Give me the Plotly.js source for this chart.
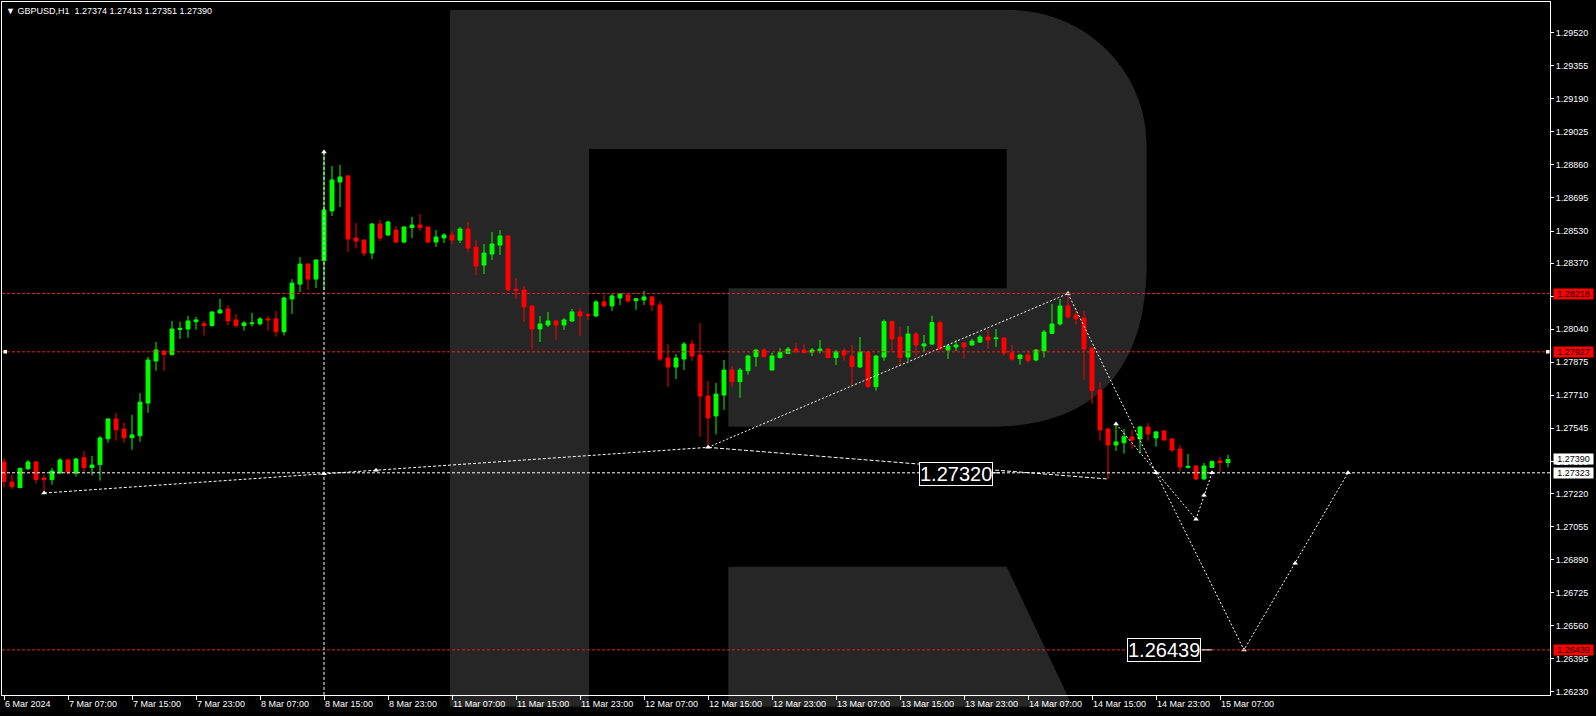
<!DOCTYPE html>
<html><head><meta charset="utf-8">
<script src="https://cdn.plot.ly/plotly-3.0.1.min.js"></script>
<style>html,body{margin:0;padding:0;background:#000;overflow:hidden}#chart{width:1596px;height:716px}</style>
</head><body><div id="chart"></div>
<script>
const symbolName = "GBPUSD,H1";
const opens = [
1.27377,1.27277,1.27249,1.27344,1.27377,1.27297,1.27289,1.27322,1.27387,1.27322,
1.27399,1.27349,1.27364,1.27493,1.27592,1.27542,1.27498,1.27508,1.27671,1.27881,
1.27931,1.27913,1.28038,1.28041,1.28077,1.28067,1.28058,1.28121,1.28141,1.28086,
1.28058,1.28067,1.28067,1.28091,1.28091,1.28027,1.28191,1.28265,1.28365,1.28290,
1.28382,1.28630,1.28775,1.28805,1.28495,1.28485,1.28420,1.28565,1.28510,1.28535,
1.28475,1.28547,1.28560,1.28550,1.28475,1.28495,1.28510,1.28485,1.28540,1.28450,
1.28360,1.28415,1.28460,1.28505,1.28239,1.28236,1.28156,1.28041,1.28061,1.28081,
1.28061,1.28081,1.28126,1.28112,1.28106,1.28176,1.28156,1.28196,1.28211,1.28182,
1.28186,1.28201,1.28161,1.27896,1.27851,1.27891,1.27966,1.27911,1.27706,1.27607,
1.27711,1.27836,1.27778,1.27833,1.27903,1.27936,1.27836,1.27898,1.27919,1.27941,
1.27936,1.27926,1.27933,1.27941,1.27898,1.27933,1.27906,1.27851,1.27926,1.27753,
1.27901,1.28078,1.28001,1.27901,1.28016,1.27956,1.27966,1.28073,1.27936,1.27951,
1.27971,1.27961,1.27976,1.28001,1.27993,1.27996,1.27921,1.27893,1.27911,1.27886,
1.27931,1.28019,1.28066,1.28156,1.28111,1.28096,1.27946,1.27736,1.27542,1.27462,
1.27473,1.27502,1.27492,1.27552,1.27497,1.27532,1.27492,1.27442,1.27350,1.27357,
1.27292,1.27350,1.27382,1.27374];
const highs = [
1.27395,1.27312,1.27349,1.27387,1.27382,1.27312,1.27347,1.27397,1.27395,1.27399,
1.27432,1.27407,1.27507,1.27595,1.27622,1.27575,1.27612,1.27721,1.27901,1.27976,
1.27936,1.28081,1.28077,1.28106,1.28101,1.28081,1.28129,1.28191,1.28161,1.28116,
1.28081,1.28121,1.28101,1.28106,1.28131,1.28201,1.28290,1.28400,1.28369,1.28390,
1.28920,1.28855,1.28860,1.28810,1.28570,1.28488,1.28570,1.28585,1.28580,1.28555,
1.28555,1.28600,1.28615,1.28553,1.28535,1.28520,1.28530,1.28550,1.28575,1.28485,
1.28465,1.28525,1.28535,1.28508,1.28296,1.28256,1.28159,1.28106,1.28126,1.28084,
1.28096,1.28141,1.28146,1.28121,1.28186,1.28211,1.28216,1.28221,1.28214,1.28196,
1.28231,1.28206,1.28181,1.27966,1.27916,1.27976,1.27986,1.28071,1.27781,1.27771,
1.27886,1.27856,1.27846,1.27911,1.27939,1.27946,1.27923,1.27946,1.27951,1.27971,
1.27966,1.27946,1.27986,1.27946,1.27936,1.27946,1.27961,1.28001,1.27929,1.27911,
1.28088,1.28083,1.28051,1.28056,1.28026,1.28011,1.28107,1.28083,1.27961,1.27986,
1.27976,1.27991,1.28011,1.28036,1.28041,1.27999,1.27961,1.27914,1.27936,1.27941,
1.28036,1.28166,1.28191,1.28218,1.28141,1.28131,1.27949,1.27776,1.27545,1.27567,
1.27542,1.27537,1.27557,1.27572,1.27532,1.27537,1.27497,1.27462,1.27417,1.27360,
1.27372,1.27384,1.27402,1.27413];
const lows = [
1.27250,1.27242,1.27245,1.27337,1.27269,1.27229,1.27264,1.27320,1.27315,1.27304,
1.27324,1.27309,1.27284,1.27473,1.27483,1.27473,1.27438,1.27478,1.27623,1.27833,
1.27833,1.27909,1.27991,1.27998,1.28038,1.28008,1.28053,1.28117,1.28058,1.28048,
1.28033,1.28053,1.28058,1.28033,1.28003,1.28008,1.28116,1.28226,1.28236,1.28246,
1.28236,1.28605,1.28650,1.28425,1.28445,1.28405,1.28390,1.28480,1.28507,1.28470,
1.28470,1.28495,1.28530,1.28470,1.28450,1.28470,1.28465,1.28470,1.28425,1.28310,
1.28315,1.28385,1.28410,1.28232,1.28191,1.28076,1.27941,1.27976,1.28051,1.27986,
1.28036,1.28076,1.28006,1.28086,1.28101,1.28151,1.28131,1.28161,1.28171,1.28136,
1.28161,1.28131,1.27881,1.27751,1.27791,1.27836,1.27881,1.27502,1.27450,1.27515,
1.27637,1.27753,1.27698,1.27813,1.27853,1.27899,1.27833,1.27894,1.27916,1.27919,
1.27919,1.27906,1.27919,1.27894,1.27861,1.27883,1.27758,1.27846,1.27748,1.27733,
1.27883,1.27928,1.27861,1.27883,1.27906,1.27926,1.27961,1.27936,1.27891,1.27931,
1.27891,1.27958,1.27971,1.27941,1.27951,1.27908,1.27883,1.27863,1.27873,1.27879,
1.27898,1.28016,1.28058,1.28092,1.28063,1.27788,1.27668,1.27483,1.27292,1.27432,
1.27419,1.27442,1.27420,1.27483,1.27454,1.27483,1.27427,1.27329,1.27344,1.27287,
1.27289,1.27347,1.27327,1.27351];
const closes = [
1.27279,1.27254,1.27345,1.27377,1.27289,1.27289,1.27332,1.27387,1.27327,1.27392,
1.27349,1.27362,1.27497,1.27592,1.27538,1.27498,1.27512,1.27676,1.27886,1.27936,
1.27913,1.28041,1.28044,1.28081,1.28086,1.28058,1.28126,1.28136,1.28081,1.28058,
1.28071,1.28071,1.28091,1.28087,1.28027,1.28196,1.28270,1.28365,1.28290,1.28385,
1.28635,1.28785,1.28800,1.28490,1.28480,1.28420,1.28565,1.28495,1.28575,1.28475,
1.28550,1.28560,1.28547,1.28475,1.28500,1.28510,1.28485,1.28540,1.28445,1.28355,
1.28420,1.28465,1.28505,1.28236,1.28232,1.28151,1.28041,1.28066,1.28081,1.28061,
1.28086,1.28126,1.28106,1.28109,1.28176,1.28156,1.28206,1.28216,1.28181,1.28192,
1.28201,1.28161,1.27891,1.27851,1.27896,1.27966,1.27906,1.27706,1.27597,1.27716,
1.27836,1.27778,1.27836,1.27906,1.27936,1.27903,1.27906,1.27923,1.27941,1.27931,
1.27923,1.27936,1.27941,1.27898,1.27926,1.27911,1.27853,1.27926,1.27753,1.27906,
1.28078,1.27991,1.27898,1.28016,1.27961,1.27966,1.28073,1.27941,1.27956,1.27961,
1.27951,1.27981,1.28001,1.27986,1.27996,1.27921,1.27891,1.27911,1.27883,1.27936,
1.28026,1.28066,1.28156,1.28102,1.28092,1.27941,1.27733,1.27537,1.27462,1.27477,
1.27503,1.27487,1.27552,1.27517,1.27527,1.27487,1.27437,1.27352,1.27355,1.27292,
1.27357,1.27379,1.27374,1.27390];

const tickIndex = [0,8,16,24,32,40,48,56,64,72,80,88,96,104,112,120,128,136,144,152];
const tickLabels = ["6 Mar 2024","7 Mar 07:00","7 Mar 15:00","7 Mar 23:00","8 Mar 07:00","8 Mar 15:00","8 Mar 23:00","11 Mar 07:00","11 Mar 15:00","11 Mar 23:00","12 Mar 07:00","12 Mar 15:00","12 Mar 23:00","13 Mar 07:00","13 Mar 15:00","13 Mar 23:00","14 Mar 07:00","14 Mar 15:00","14 Mar 23:00","15 Mar 07:00"];
const priceTicks = [1.29520,1.29355,1.29190,1.29025,1.28860,1.28695,1.28530,1.28370,1.28205,1.28040,1.27875,1.27710,1.27545,1.27380,1.27220,1.27055,1.26890,1.26725,1.26560,1.26395,1.26230];

const redLevels = [1.28218, 1.27927, 1.26439];
const whiteLevel = 1.27323;

// analyst drawing: wave lines (bar index, price)
const waveAX = [5, 88],            waveAY = [1.27222, 1.27450];
const waveBX = [88, 133],          waveBY = [1.27450, 1.28218];
const waveCX = [88, 138],          waveCY = [1.27450, 1.27292];
const waveDX = [133, 144, 155, 168], waveDY = [1.28218, 1.27323, 1.26439, 1.27323];
const waveEX = [139, 149, 151],    waveEY = [1.27567, 1.27091, 1.27323];
const pointX = [5, 40, 46.5, 88, 133, 144, 155, 161.4, 168, 139, 149, 150, 151, 40];
const pointY = [1.27222, 1.27318, 1.27336, 1.27450, 1.28218, 1.27323, 1.26439, 1.26871, 1.27323, 1.27567, 1.27091, 1.27211, 1.27323, 1.28925];
const markerBarIndex = 40, markerTopPrice = 1.28925;
const labelTexts = ["1.27320", "1.26439"];
const labelX = [119.05, 145.06];
const labelY = [1.27318, 1.26436];

const barIndex = opens.map((_, i) => i);
const yMin = 1.262138, yMax = 1.296733;
const last = closes.length - 1;

// pixel helpers for paper-space decorations (plot area 2..1550 x 2..695)
const PX = px => ((px - 2) / 1548).toFixed(5);
const PY = py => ((695 - py) / 693).toFixed(5);
const pt = (a, b) => PX(a) + ',' + PY(b);

const logoPath = 'M' + pt(450,10) + ' L' + pt(1010,10) + ' C' + pt(1085.5,10) + ' ' + pt(1146.7,70.5) + ' ' + pt(1146.7,145) +
  ' L' + pt(1146.7,262) + ' C' + pt(1146.7,370) + ' ' + pt(1095,426.7) + ' ' + pt(990,426.7) +
  ' L' + pt(728.3,426.7) + ' L' + pt(728.3,288.3) + ' L' + pt(1006.7,288.3) + ' L' + pt(1006.7,149) +
  ' L' + pt(589,149) + ' L' + pt(589,706.7) + ' L' + pt(450,706.7) + ' Z';
const legPath = 'M' + pt(728.3,566.7) + ' L' + pt(1006.7,566.7) + ' L' + pt(1072.7,706.7) + ' L' + pt(728.3,706.7) + ' Z';

const shapes = [
  {type:'path', path: logoPath, xref:'paper', yref:'paper', fillcolor:'#262626', line:{width:0}, layer:'below'},
  {type:'path', path: legPath, xref:'paper', yref:'paper', fillcolor:'#262626', line:{width:0}, layer:'below'}
];
redLevels.forEach(v => shapes.push({type:'line', xref:'paper', x0:0, x1:1, yref:'y', y0:v, y1:v,
  line:{color:'#e81e1e', width:1, dash:'3px,2px'}}));
shapes.push({type:'line', xref:'paper', x0:0, x1:1, yref:'y', y0:whiteLevel, y1:whiteLevel,
  line:{color:'#ffffff', width:1, dash:'3px,2px'}});
shapes.push({type:'line', xref:'x', x0:markerBarIndex, x1:markerBarIndex, yref:'y', y0:markerTopPrice, y1:yMin,
  line:{color:'#ffffff', width:1, dash:'3px,2px'}});
// end handles of the 1.27927 level
shapes.push({type:'rect', xref:'paper', yref:'paper', x0:PX(3.5), x1:PX(7), y0:PY(353.5), y1:PY(350), fillcolor:'#fff', line:{width:0}});
shapes.push({type:'rect', xref:'paper', yref:'paper', x0:PX(1546), x1:PX(1549.5), y0:PY(353.5), y1:PY(350), fillcolor:'#fff', line:{width:0}});
// connectors of text labels
shapes.push({type:'line', xref:'x', yref:'y', x0:123.6, x1:124.5, y0:whiteLevel, y1:whiteLevel, line:{color:'#fff', width:1}});
shapes.push({type:'line', xref:'x', yref:'y', x0:149.7, x1:151, y0:redLevels[2], y1:redLevels[2], line:{color:'#fff', width:1}});

const candle = {
  type:'candlestick', x: barIndex, open: opens, high: highs, low: lows, close: closes,
  increasing:{line:{color:'#00ff00', width:1}, fillcolor:'#00ff00'},
  decreasing:{line:{color:'#ff0000', width:1}, fillcolor:'#ff0000'},
  whiskerwidth:0, hoverinfo:'skip', showlegend:false
};
const dot = {color:'#ffffff', width:1, dash:'2px,2px'};
const mk = (x, y, d) => ({type:'scatter', mode:'lines', x:x, y:y, line:d||dot, hoverinfo:'skip', showlegend:false});
const traces = [candle,
  mk(waveAX, waveAY, {color:'#fff', width:1, dash:'3px,2px'}),
  mk(waveBX, waveBY), mk(waveCX, waveCY, {color:'#fff', width:1, dash:'4px,2px'}),
  mk(waveDX, waveDY), mk(waveEX, waveEY),
  {type:'scatter', mode:'markers', x:pointX, y:pointY, marker:{symbol:'triangle-up', size:5, color:'#fff'}, hoverinfo:'skip', showlegend:false}
];

const font9 = {family:'Liberation Sans, Arial, sans-serif', size:9, color:'#ffffff'};
const annotations = [];
annotations.push({xref:'paper', yref:'paper', x:0, y:1, xanchor:'left', yanchor:'middle', xshift:3, yshift:-8.7,
  showarrow:false, font:font9, borderpad:0,
  text:'\u25BC ' + symbolName + '\u00a0\u00a0' + [opens[last], highs[last], lows[last], closes[last]].map(v => v.toFixed(5)).join(' ')});
const priceBox = (v, bg) => ({xref:'paper', yref:'y', x:1, y:v, xanchor:'left', yanchor:'middle', xshift:2.7,
  showarrow:false, text:v.toFixed(5), bgcolor:bg, width:39, height:10, borderpad:0, align:'center',
  font:{family:font9.family, size:9, color:'#000'}});
redLevels.forEach(v => annotations.push(priceBox(v, '#ff0000')));
annotations.push(priceBox(closes[last], '#ffffff'));
annotations.push(priceBox(whiteLevel, '#ffffff'));
labelTexts.forEach((t, i) => annotations.push({xref:'x', yref:'y', x:labelX[i], y:labelY[i], xanchor:'center', yanchor:'middle',
  showarrow:false, text:t, bgcolor:'#000', bordercolor:'#fff', borderwidth:1, borderpad:0,
  font:{family:'Liberation Sans, Arial, sans-serif', size:20, color:'#fff'}}));

const layout = {
  width:1596, height:716,
  margin:{l:2, r:46, t:2, b:21, pad:0},
  paper_bgcolor:'#000000', plot_bgcolor:'rgba(0,0,0,0)',
  showlegend:false, hovermode:false, dragmode:false,
  font:font9,
  xaxis:{type:'linear', range:[-0.25, 193.25], showgrid:false, zeroline:false, showline:true, linecolor:'#fff', linewidth:1, mirror:true,
    ticks:'outside', ticklen:4, tickcolor:'#fff', tickwidth:1, tickvals:tickIndex, ticktext:tickLabels,
    ticklabelposition:'outside right', tickfont:font9, rangeslider:{visible:false}, fixedrange:true},
  yaxis:{side:'right', range:[yMin, yMax], showgrid:false, zeroline:false, showline:true, linecolor:'#fff', linewidth:1, mirror:true,
    ticks:'outside', ticklen:3, tickcolor:'#fff', tickwidth:1, tickvals:priceTicks, tickformat:'.5f', tickfont:font9, fixedrange:true},
  shapes:shapes, annotations:annotations
};
Plotly.newPlot('chart', traces, layout, {displayModeBar:false, staticPlot:true});
</script></body></html>
